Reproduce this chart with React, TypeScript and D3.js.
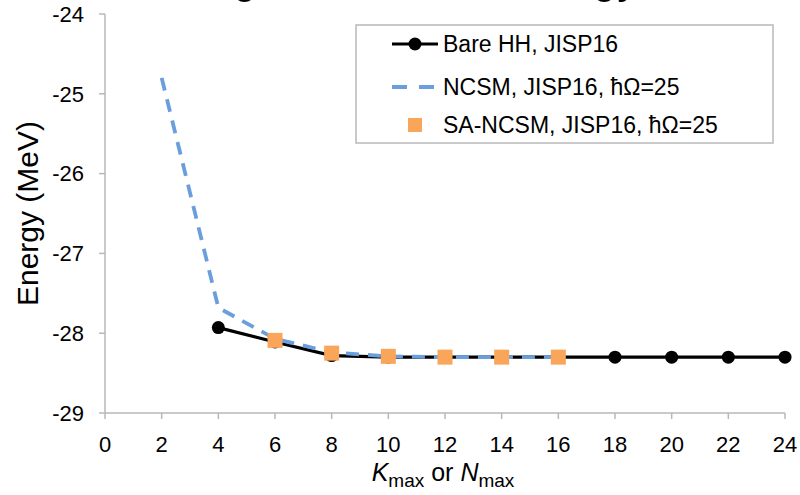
import React from "react";
import * as d3 from "d3";

const W = 800;
const H = 495;

const xTicks = [0, 2, 4, 6, 8, 10, 12, 14, 16, 18, 20, 22, 24];
const yTicks = [-29, -28, -27, -26, -25, -24];

const bareK = [4, 6, 8, 10, 12, 14, 16, 18, 20, 22, 24];
const bareE = [-27.93, -28.11, -28.28, -28.3, -28.3, -28.3, -28.3, -28.3, -28.3, -28.3, -28.3];

const ncsmN = [2, 4, 6, 8, 10, 12, 14, 16];
const ncsmE = [-24.8, -27.68, -28.07, -28.24, -28.29, -28.3, -28.3, -28.3];

const saN = [6, 8, 10, 12, 14, 16];
const saE = [-28.09, -28.25, -28.29, -28.3, -28.3, -28.3];

const legendLabels = ["Bare HH, JISP16", "NCSM, JISP16, \u0127\u03A9=25", "SA-NCSM, JISP16, \u0127\u03A9=25"];

const BLACK = "#000000";
const BLUE = "#6a9fdc";
const ORANGE = "#f9a65a";
const AXIS = "#b8b8b8";
const FONT = "'Liberation Sans', Arial, sans-serif";

export default function App() {
  const x = d3.scaleLinear().domain([0, 24]).range([105, 785]);
  const y = d3.scaleLinear().domain([-29, -24]).range([413, 14]);

  const bare = bareK.map((k, i) => [k, bareE[i]] as [number, number]);
  const ncsm = ncsmN.map((k, i) => [k, ncsmE[i]] as [number, number]);
  const sa = saN.map((k, i) => [k, saE[i]] as [number, number]);

  const line = d3
    .line<[number, number]>()
    .x((d) => x(d[0]))
    .y((d) => y(d[1]));

  const sq = 15;
  const legendY = [44, 87, 125];

  return (
    <div style={{ position: "fixed", left: 0, top: 0, width: W, height: H, background: "#fff" }}>
      <svg width={W} height={H} style={{ display: "block", fontFamily: FONT }}>
        <rect width={W} height={H} fill="#fff" />
        {/* title, cropped at the top edge: only descenders show */}
        <g transform="translate(232, -10) scale(0.82, 1)">
          <text x={0} y={0} fontSize={56} fill="#000" textAnchor="end">
            {"\u2074He "}
          </text>
          <text x={0} y={0} fontSize={56} fill="#000">
            ground state energy
          </text>
        </g>

        {/* axes */}
        <line x1={105} x2={105} y1={y(-24)} y2={y(-29)} stroke={AXIS} strokeWidth={1.5} />
        <line x1={105} x2={785} y1={y(-29)} y2={y(-29)} stroke={AXIS} strokeWidth={1.5} />
        {yTicks.map((t) => (
          <g key={"y" + t}>
            <line x1={99} x2={105} y1={y(t)} y2={y(t)} stroke={AXIS} strokeWidth={1.5} />
            <text x={84} y={y(t)} dy="0.35em" textAnchor="end" fontSize={22} fill="#000">
              {"-" + Math.abs(t)}
            </text>
          </g>
        ))}
        {xTicks.map((t) => (
          <g key={"x" + t}>
            <line x1={x(t)} x2={x(t)} y1={y(-29)} y2={y(-29) + 6} stroke={AXIS} strokeWidth={1.5} />
            <text x={x(t)} y={444} dy="0.35em" textAnchor="middle" fontSize={22} fill="#000">
              {t}
            </text>
          </g>
        ))}

        {/* axis titles */}
        <text
          transform={`translate(27, ${y(-26.5)}) rotate(-90)`}
          textAnchor="middle"
          dy="0.35em"
          fontSize={30}
          fill="#000"
        >
          Energy (MeV)
        </text>
        <text x={443} y={481} textAnchor="middle" fontSize={25} fill="#000">
          <tspan fontStyle="italic">K</tspan>
          <tspan fontSize={19} dy={6}>max</tspan>
          <tspan dy={-6}> or </tspan>
          <tspan fontStyle="italic">N</tspan>
          <tspan fontSize={19} dy={6}>max</tspan>
        </text>

        {/* series */}
        <path d={line(bare) || ""} fill="none" stroke={BLACK} strokeWidth={3.2} />
        {bare.map((d, i) => (
          <circle key={"b" + i} cx={x(d[0])} cy={y(d[1])} r={6.5} fill={BLACK} />
        ))}
        <path
          d={line(ncsm) || ""}
          fill="none"
          stroke={BLUE}
          strokeWidth={3.8}
          strokeDasharray="13 9"
        />
        {sa.map((d, i) => (
          <rect
            key={"s" + i}
            x={x(d[0]) - sq / 2}
            y={y(d[1]) - sq / 2}
            width={sq}
            height={sq}
            fill={ORANGE}
          />
        ))}

        {/* legend */}
        <rect x={356} y={25} width={417} height={118} fill="#fff" stroke={AXIS} strokeWidth={1.5} />
        <line x1={392} x2={438} y1={legendY[0]} y2={legendY[0]} stroke={BLACK} strokeWidth={3.2} />
        <circle cx={415} cy={legendY[0]} r={6.5} fill={BLACK} />
        <line
          x1={392}
          x2={438}
          y1={legendY[1]}
          y2={legendY[1]}
          stroke={BLUE}
          strokeWidth={3.8}
          strokeDasharray="15 12"
        />
        <rect x={415 - 7} y={legendY[2] - 7} width={14} height={14} fill={ORANGE} />
        {legendLabels.map((l, i) => (
          <text key={l} x={443} y={legendY[i]} dy="0.35em" fontSize={23} fill="#000">
            {l}
          </text>
        ))}
      </svg>
    </div>
  );
}
